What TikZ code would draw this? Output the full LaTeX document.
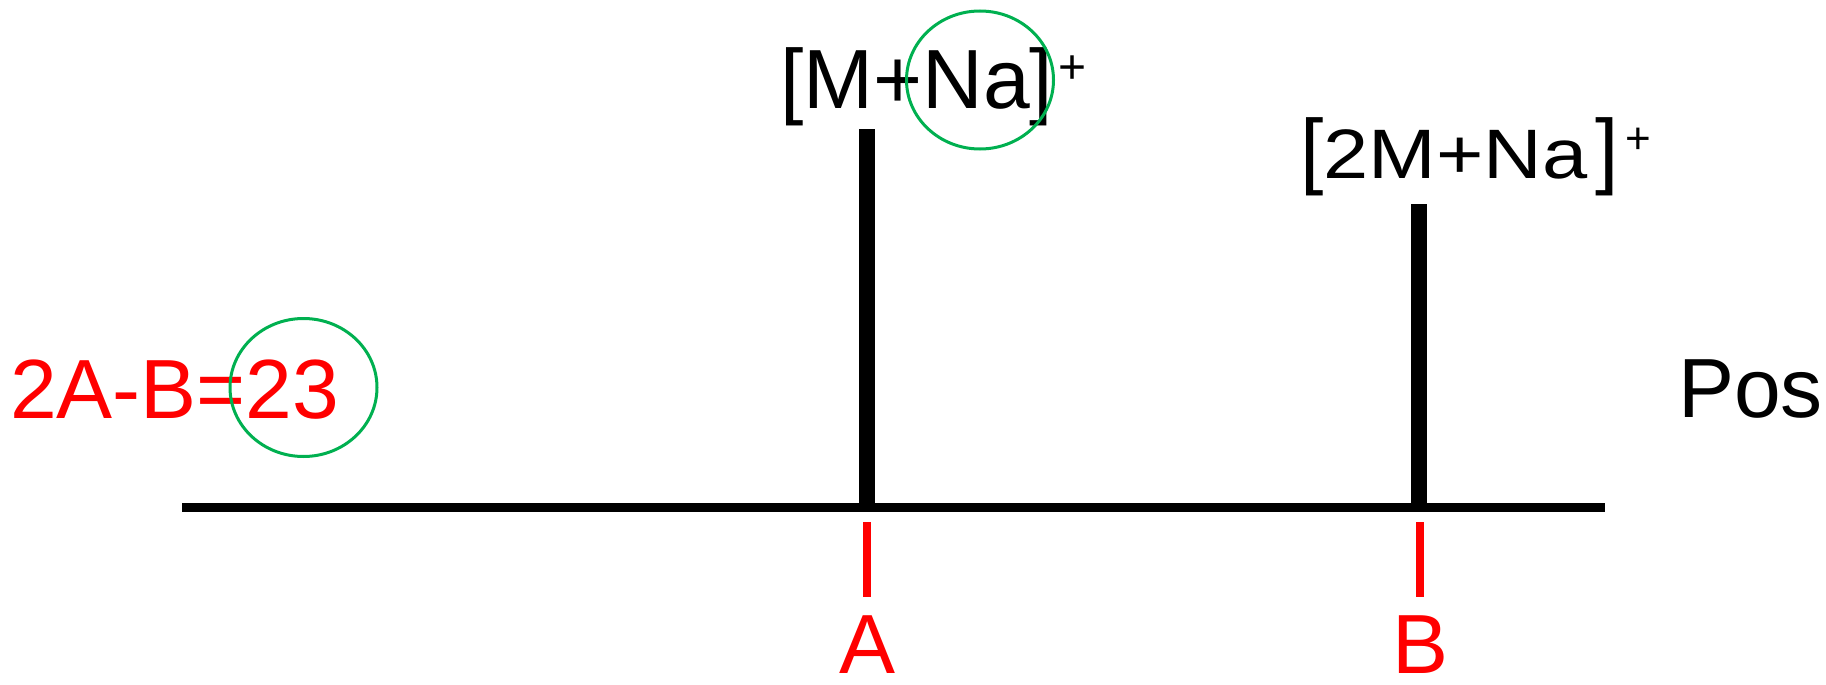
\documentclass[tikz,border=0pt]{standalone}
\usepackage{fontspec}
\setmainfont{Liberation Sans}
\usepackage{graphicx}
\usetikzlibrary{shapes.geometric}
\definecolor{ringgreen}{RGB}{0,176,80}
\definecolor{tickred}{RGB}{255,0,0}
\begin{document}
\begin{tikzpicture}[x=1pt,y=-1pt,
  lbl/.style={inner sep=0pt, outer sep=0pt, font=\fontsize{84}{90}\selectfont},
  redlbl/.style={lbl, text=tickred},
  suplbl/.style={inner sep=0pt, outer sep=0pt},
  axisline/.style={line width=8.5pt},
  peakbar/.style={line width=16pt},
  redtick/.style={draw=tickred, line width=8pt},
  ring/.style={draw=ringgreen, line width=3pt, ellipse, inner sep=0pt,
    minimum width=147pt, minimum height=138pt}
]
\useasboundingbox (0,0) rectangle (1826,685);

% axis
\coordinate (x0) at (182,507.5);
\coordinate (x1) at (1605,507.5);
\draw[axisline] (x0) -- (x1);

% peaks
\coordinate (pA) at (867,129);
\coordinate (bA) at (867,507.5);
\coordinate (pB) at (1419,204);
\coordinate (bB) at (1419,507.5);
\draw[peakbar] (pA) -- (bA);
\draw[peakbar] (pB) -- (bB);

% red ticks
\coordinate (tA1) at (867,522);
\coordinate (tA2) at (867,597);
\coordinate (tB1) at (1420,522);
\coordinate (tB2) at (1420,597);
\draw[redtick] (tA1) -- (tA2);
\draw[redtick] (tB1) -- (tB2);

% labels A, B
\node[redlbl, anchor=base, text depth=0pt] (labA) at (868,673) {A};
\node[redlbl, anchor=base, text depth=0pt] (labB) at (1420,673) {B};

% peak labels
\node[lbl, anchor=base west] (ionA) at (780,108) {[M+Na]};
\node[suplbl, anchor=base, font=\fontsize{48}{50}\selectfont] (supA) at (1073,83) {+};

\node[inner sep=0pt, outer sep=0pt, anchor=base west] (ionB) at (1300,178)
  {\fontsize{84}{90}\selectfont[\scalebox{1.16}[1]{\fontsize{70}{80}\selectfont 2M+Na}\kern8pt]};
\node[suplbl, anchor=base, font=\fontsize{44}{46}\selectfont] (supB) at (1638,153) {+};

% formula and Pos
\node[redlbl, anchor=base west] (formula) at (10,418) {2A-B=23};
\node[lbl, anchor=base west] (pos) at (1678,417) {Pos};

% green rings
\node[ring] (ring1) at (980,80) {};
\node[ring] (ring2) at (303.5,387.5) {};
\end{tikzpicture}
\end{document}
